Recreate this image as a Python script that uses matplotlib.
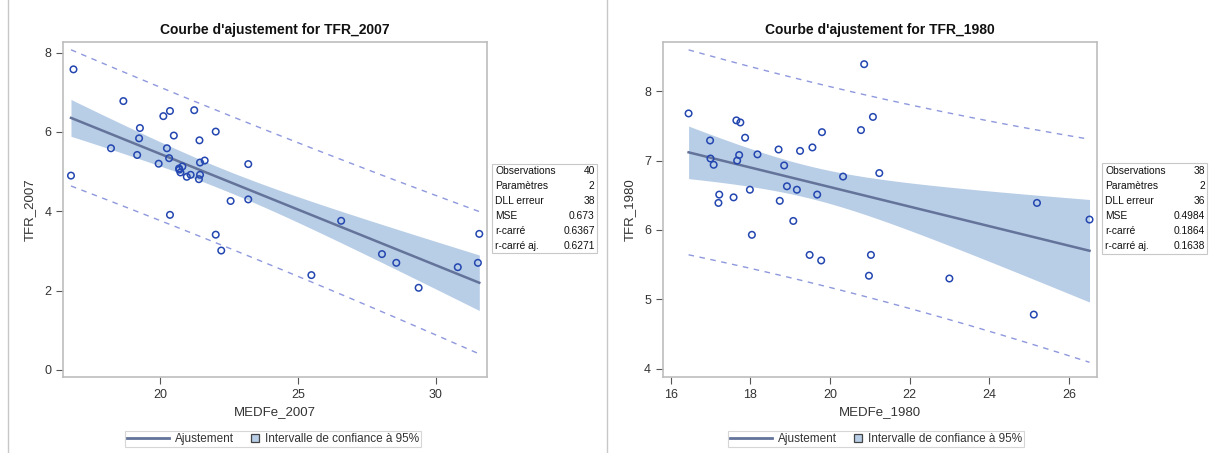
import numpy as np
import matplotlib
matplotlib.use("Agg")
import matplotlib.pyplot as plt
from matplotlib.lines import Line2D
from matplotlib.patches import Patch, Rectangle
from matplotlib.legend_handler import HandlerPatch

plt.rcParams['font.family'] = ['Liberation Sans', 'DejaVu Sans']

# ---- data: panel 1 (2007) ----
medfe_2007 = [16.86, 16.77, 18.67, 20.36, 20.12, 21.24, 19.27, 19.24, 18.22, 19.17,
              20.50, 20.25, 20.33, 19.95, 20.81, 20.69, 20.74, 20.97, 21.11, 21.43,
              22.02, 21.45, 21.62, 21.45, 21.41, 23.20, 22.56, 23.20, 20.36, 26.57,
              22.02, 22.22, 25.49, 28.05, 28.57, 29.38, 30.80, 31.53, 31.58, 20.70]
tfr_2007 = [7.58, 4.90, 6.78, 6.53, 6.40, 6.55, 6.10, 5.84, 5.59, 5.42,
            5.91, 5.59, 5.34, 5.20, 5.13, 5.08, 4.98, 4.87, 4.92, 5.79,
            6.01, 5.23, 5.28, 4.92, 4.81, 5.19, 4.26, 4.30, 3.91, 3.76,
            3.41, 3.01, 2.39, 2.92, 2.70, 2.07, 2.59, 2.70, 3.43, 5.05]

# ---- data: panel 2 (1980) ----
medfe_1980 = [16.45, 20.86, 16.99, 17.00, 17.08, 17.65, 17.75, 17.87, 17.72, 17.67,
              18.18, 17.22, 17.20, 17.58, 17.99, 18.71, 18.85, 18.92, 18.74, 19.17,
              19.25, 19.56, 19.80, 19.68, 19.08, 20.33, 20.78, 21.08, 21.24, 25.20,
              26.52, 18.04, 19.49, 19.78, 21.03, 20.98, 23.00, 25.12]
tfr_1980 = [7.68, 8.39, 7.29, 7.03, 6.94, 7.58, 7.55, 7.33, 7.08, 7.00,
            7.09, 6.51, 6.39, 6.47, 6.58, 7.16, 6.93, 6.63, 6.42, 6.58,
            7.14, 7.19, 7.41, 6.51, 6.13, 6.77, 7.44, 7.63, 6.82, 6.39,
            6.15, 5.93, 5.64, 5.56, 5.64, 5.34, 5.30, 4.78]

stat_labels = ["Observations", "Paramètres", "DLL erreur", "MSE", "r-carré", "r-carré aj."]
stats_2007 = ["40", "2", "38", "0.673", "0.6367", "0.6271"]
stats_1980 = ["38", "2", "36", "0.4984", "0.1864", "0.1638"]
t_crit = {38: 2.0244, 36: 2.0281}

W, H = 1215, 453
fig = plt.figure(figsize=(W / 100, H / 100), dpi=100)

MARK = "#2346B0"
FIT = "#63739A"
BAND = "#B8CDE6"
PRED = "#8E98DD"
SPINE = "#BDBDBD"
TXT = "#333333"


def px_axes(x0, x1, y0, y1):
    return fig.add_axes([x0 / W, 1 - y1 / H, (x1 - x0) / W, (y1 - y0) / H])


def panel(ax, x, y, xlim, ylim, xticks, yticks, title, xlabel, ylabel):
    x = np.asarray(x); y = np.asarray(y)
    n = len(x)
    b, a = np.polyfit(x, y, 1)
    resid = y - (a + b * x)
    mse = np.sum(resid ** 2) / (n - 2)
    t = t_crit[n - 2]
    xs = np.linspace(x.min(), x.max(), 200)
    yh = a + b * xs
    sxx = np.sum((x - x.mean()) ** 2)
    h = 1 / n + (xs - x.mean()) ** 2 / sxx
    ci = t * np.sqrt(mse * h)
    pi = t * np.sqrt(mse * (1 + h))
    ax.fill_between(xs, yh - ci, yh + ci, color=BAND, lw=0, zorder=1)
    ax.plot(xs, yh, color=FIT, lw=1.8, zorder=3)
    ax.plot(xs, yh + pi, color=PRED, lw=1, ls=(0, (4, 4)), zorder=2)
    ax.plot(xs, yh - pi, color=PRED, lw=1, ls=(0, (4, 4)), zorder=2)
    ax.scatter(x, y, s=22, facecolors="none", edgecolors=MARK, linewidths=1.1, zorder=4)
    ax.set_xlim(*xlim); ax.set_ylim(*ylim)
    ax.set_xticks(xticks); ax.set_yticks(yticks)
    for s in ax.spines.values():
        s.set_color(SPINE); s.set_linewidth(1.2)
    ax.tick_params(colors="#555555", labelcolor=TXT, labelsize=9, length=5, width=0.8)
    ax.set_title(title, fontsize=10, fontweight="bold", color="#111111", pad=6)
    ax.set_xlabel(xlabel, fontsize=9.5, color=TXT, labelpad=4)
    ax.set_ylabel(ylabel, fontsize=9.5, color=TXT, labelpad=6)


ax1 = px_axes(63, 487, 42, 377)
panel(ax1, medfe_2007, tfr_2007, (16.48, 31.86), (-0.18, 8.27), [20, 25, 30], [0, 2, 4, 6, 8],
      "Courbe d'ajustement for TFR_2007", "MEDFe_2007", "TFR_2007")
ax2 = px_axes(662.7, 1096.7, 42, 377)
panel(ax2, medfe_1980, tfr_1980, (15.8, 26.7), (3.88, 8.71), [16, 18, 20, 22, 24, 26], [4, 5, 6, 7, 8],
      "Courbe d'ajustement for TFR_1980", "MEDFe_1980", "TFR_1980")


def stat_box(x0, x1, y0, y1, values):
    fig.patches.append(Rectangle((x0 / W, 1 - y1 / H), (x1 - x0) / W, (y1 - y0) / H,
                                 transform=fig.transFigure, fill=False, ec="#C8C8C8", lw=0.8))
    step = (y1 - y0) / len(values)
    for i, (lab, val) in enumerate(zip(stat_labels, values)):
        yy = 1 - (y0 + step * (i + 0.5)) / H
        fig.text((x0 + 3) / W, yy, lab, fontsize=7.4, color="#111111", va="center", ha="left")
        fig.text((x1 - 2) / W, yy, val, fontsize=7.4, color="#111111", va="center", ha="right")


stat_box(492.3, 596.7, 164, 253.3, stats_2007)
stat_box(1102.3, 1207.3, 163.3, 254, stats_1980)


def small_square(legend, orig_handle, xdescent, ydescent, width, height, fontsize):
    sq = 0.72 * fontsize
    return Rectangle((width - sq - xdescent, (height - sq) / 2 - ydescent), sq, sq)


handles = [Line2D([0], [0], color=FIT, lw=2),
           Patch(facecolor=BAND, edgecolor="#444444", lw=0.9)]
labels = ["Ajustement", "Intervalle de confiance à 95%"]
for cx in (273 / W, 876 / W):
    leg = fig.legend(handles, labels, loc="center", bbox_to_anchor=(cx, 1 - 439 / H), ncol=2,
                     fontsize=8.5, frameon=True, fancybox=False, handlelength=3.6,
                     handleheight=0.8, handletextpad=0.5, columnspacing=-1.5,
                     borderpad=0.35, borderaxespad=0, edgecolor="#CCCCCC",
                     handler_map={Patch: HandlerPatch(patch_func=small_square)})
    leg.get_frame().set_linewidth(0.8)
    leg._legend_box.pad = 1.5
    for t in leg.get_texts():
        t.set_color(TXT)

# panel separators
for xl in (8, 607):
    fig.add_artist(Line2D([xl / W, xl / W], [0, 1], transform=fig.transFigure, color="#C8C8C8", lw=1))

fig.savefig("out.png", dpi=100)
